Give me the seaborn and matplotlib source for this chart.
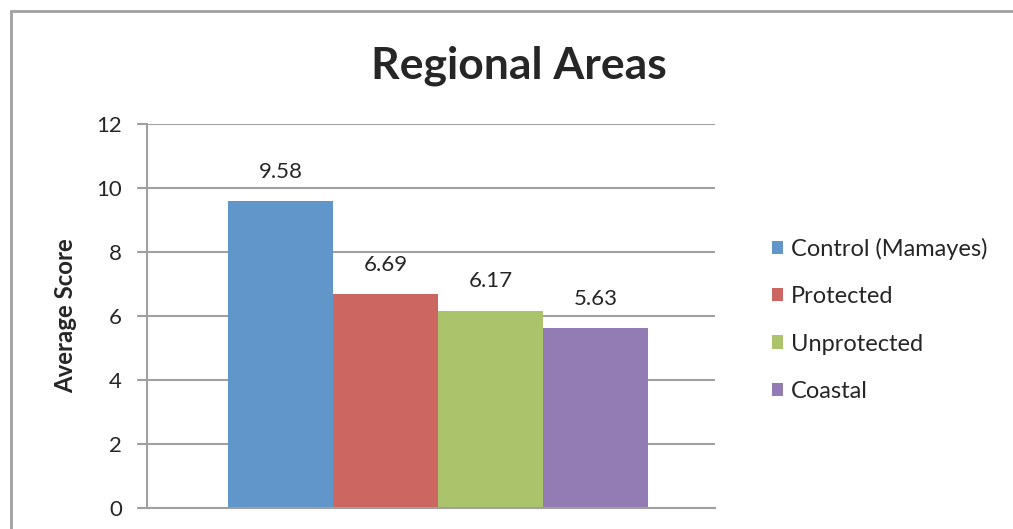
import matplotlib.pyplot as plt
import seaborn as sns
from matplotlib.patches import Rectangle

regions = ["Control (Mamayes)", "Protected", "Unprotected", "Coastal"]
scores = [9.58, 6.69, 6.17, 5.63]
colors = ["#6096CA", "#CC6660", "#ABC46C", "#937CB3"]
yticks = [0, 2, 4, 6, 8, 10, 12]

sns.set_style("white")
plt.rcParams["font.family"] = ["Lato", "DejaVu Sans"]

fig = plt.figure(figsize=(10.13, 5.29), dpi=100)
ax = fig.add_axes([0.145, 0.0397, 0.561, 0.726])

sns.barplot(ax=ax, x=regions, y=scores, hue=regions, palette=colors,
            width=1.0, saturation=1, linewidth=0, legend=True)

for i, v in enumerate(scores):
    ax.text(i, v + 0.6, f"{v:.2f}", ha="center", va="bottom", fontsize=16)

ax.set_xlim(-1.271, 4.138)
ax.set_ylim(0, 12)
ax.set_yticks(yticks)
ax.set_xticks([])
ax.set_xlabel("")
ax.set_ylabel("Average Score", fontsize=17.3, fontweight="bold", labelpad=14)
ax.tick_params(axis="y", labelsize=16, left=True, length=7, width=1.5,
               color="#A0A0A0", pad=11)
ax.yaxis.grid(True, color="#A0A0A0", linewidth=1.5)
ax.set_axisbelow(True)
for side in ["top", "right"]:
    ax.spines[side].set_visible(False)
for side in ["left", "bottom"]:
    ax.spines[side].set_color("#A0A0A0")
    ax.spines[side].set_linewidth(1.5)

fig.suptitle("Regional Areas", x=0.512, y=0.875, va="center",
             fontsize=32, fontweight="bold")

ax.legend(loc="center left", bbox_to_anchor=(1.062, 0.49), frameon=False,
          fontsize=17, handlelength=0.5, handleheight=0.5,
          handletextpad=0.3, labelspacing=1.12)

fig.patches.append(Rectangle((11 / 1013, -0.1), 1.2, 1.1 - 11 / 529,
                             transform=fig.transFigure, fill=False,
                             edgecolor="#A0A0A0", linewidth=2))

fig.savefig("out.png", dpi=100)
